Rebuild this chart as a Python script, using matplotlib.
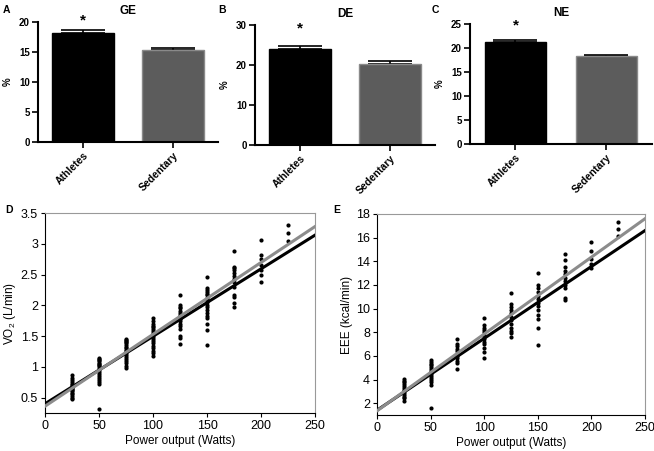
import numpy as np
import matplotlib
matplotlib.use("Agg")
import matplotlib.pyplot as plt

plt.rcParams['font.family'] = ['Liberation Sans', 'DejaVu Sans']
plt.rcParams['mathtext.fontset'] = 'custom'
plt.rcParams['mathtext.rm'] = 'Liberation Sans'
plt.rcParams['mathtext.it'] = 'Liberation Sans:italic'

# bar panels
groups = ["Athletes", "Sedentary"]
ge_mean = [18.1, 15.3]
ge_err = [0.5, 0.3]
de_mean = [23.9, 20.3]
de_err = [0.8, 0.7]
ne_mean = [21.2, 18.3]
ne_err = [0.5, 0.3]

# scatter data: power output levels and measured values
watts = [25, 50, 75, 100, 125, 150, 175, 200, 225]
vo2 = [
    [0.86, 0.82, 0.78, 0.75, 0.72, 0.70, 0.68, 0.66, 0.64, 0.62, 0.60, 0.58, 0.56, 0.53, 0.50, 0.47],
    [1.15, 1.13, 1.11, 1.09, 1.07, 1.05, 1.03, 1.01, 0.98, 0.95, 0.92, 0.88, 0.85, 0.82, 0.78, 0.75, 0.72, 0.32],
    [1.46, 1.44, 1.42, 1.40, 1.38, 1.35, 1.33, 1.30, 1.28, 1.25, 1.22, 1.19, 1.16, 1.13, 1.10, 1.06, 1.02, 0.98],
    [1.80, 1.75, 1.70, 1.67, 1.64, 1.61, 1.58, 1.55, 1.52, 1.48, 1.45, 1.42, 1.38, 1.34, 1.30, 1.26, 1.22, 1.18],
    [2.17, 2.01, 1.98, 1.95, 1.90, 1.87, 1.84, 1.80, 1.77, 1.74, 1.70, 1.66, 1.62, 1.50, 1.47, 1.37],
    [2.46, 2.28, 2.25, 2.22, 2.19, 2.16, 2.12, 2.08, 2.05, 2.01, 1.97, 1.92, 1.87, 1.83, 1.80, 1.70, 1.60, 1.35],
    [2.88, 2.63, 2.60, 2.57, 2.52, 2.47, 2.42, 2.38, 2.30, 2.17, 2.14, 2.04, 1.98],
    [3.06, 2.81, 2.75, 2.65, 2.58, 2.50, 2.38],
    [3.31, 3.18, 3.04],
]
eee = [
    [4.05, 3.9, 3.75, 3.6, 3.45, 3.3, 3.15, 3.0, 2.85, 2.7, 2.55, 2.4, 2.2],
    [5.65, 5.5, 5.35, 5.2, 5.05, 4.9, 4.75, 4.6, 4.45, 4.3, 4.15, 4.0, 3.8, 3.5, 1.55],
    [7.4, 7.0, 6.8, 6.6, 6.4, 6.2, 6.0, 5.8, 5.6, 5.4, 4.9],
    [9.2, 8.6, 8.4, 8.2, 8.0, 7.8, 7.6, 7.4, 7.2, 7.0, 6.7, 6.3, 5.8],
    [11.35, 10.4, 10.1, 9.9, 9.6, 9.3, 9.0, 8.7, 8.4, 8.1, 7.9, 7.6],
    [13.05, 12.0, 11.7, 11.4, 11.1, 10.8, 10.5, 10.2, 9.9, 9.5, 9.1, 8.4, 6.9],
    [14.65, 14.1, 13.5, 13.2, 12.9, 12.6, 12.3, 12.0, 11.7, 10.9, 10.7],
    [15.6, 14.9, 14.2, 13.8, 13.4],
    [17.3, 16.7, 16.1],
]
# regression lines (intercept, value at 250 W)
vo2_black = [0.40, 3.14]
vo2_gray = [0.36, 3.28]
eee_black = [1.40, 16.6]
eee_gray = [1.35, 17.6]
line_x = [0, 250]

W, H = 654, 451
fig = plt.figure(figsize=(W / 100, H / 100), dpi=100)

def box(l, t, r, b):
    return [l / W, 1 - b / H, (r - l) / W, (b - t) / H]

def bar_panel(rect, means, errs, title, letter, lx, ymax, step, star_y):
    ax = fig.add_axes(rect)
    x = np.arange(len(groups))
    ax.bar(x, means, width=0.68, color=["black", "#5c5c5c"],
           edgecolor=["black", "#8a8a8a"], linewidth=1, zorder=2)
    ax.errorbar(x, means, yerr=[[0, 0], errs], fmt="none", ecolor="black",
                elinewidth=1.2, capsize=16, capthick=1.2, zorder=1)
    ax.set_xlim(-0.5, 1.5)
    ax.set_ylim(0, ymax)
    ax.set_yticks(np.arange(0, ymax + 0.1, step))
    ax.set_xticks(x)
    ax.set_xticklabels(groups, rotation=45, ha="right", rotation_mode="anchor",
                       fontsize=7.5, fontweight="bold")
    for lab in ax.get_yticklabels():
        lab.set_fontweight("bold")
        lab.set_fontsize(7)
    ax.spines["top"].set_visible(False)
    ax.spines["right"].set_visible(False)
    ax.spines["left"].set_linewidth(1.5)
    ax.spines["bottom"].set_linewidth(1.5)
    ax.tick_params(width=1.2, length=4, pad=2)
    ax.set_ylabel("%", fontsize=7, fontweight="bold")
    ax.set_title(title, fontsize=8.5, fontweight="bold", pad=6)
    ax.text(0, star_y, "*", ha="center", va="center", fontsize=11, fontweight="bold")
    fig.text(lx / W, 1 - 10 / H, letter, fontsize=7.5, fontweight="bold", va="center")
    return ax

bar_panel(box(38, 22, 218, 142), ge_mean, ge_err, "GE", "A", 3, 20, 5, 20.2)
bar_panel(box(255, 25, 435, 145), de_mean, de_err, "DE", "B", 218, 30, 10, 29.2)
bar_panel(box(470, 24, 652, 144), ne_mean, ne_err, "NE", "C", 432, 25, 5, 24.6)

def scatter_panel(rect, vals, black, gray, ylim, yticks, ylabel, letter, lx, ly):
    ax = fig.add_axes(rect)
    for w, v in zip(watts, vals):
        ax.scatter([w] * len(v), v, s=9, color="black", zorder=3, linewidths=0)
    ax.plot(line_x, black, color="black", lw=2.2, zorder=4)
    ax.plot(line_x, gray, color="#8c8c8c", lw=2.2, zorder=5)
    ax.set_xlim(0, 250)
    ax.set_ylim(*ylim)
    ax.set_xticks(np.arange(0, 251, 50))
    ax.set_yticks(yticks)
    ax.set_yticklabels([("%g" % t) for t in yticks])
    ax.tick_params(labelsize=9, length=3, width=0.8, pad=2)
    for s in ["top", "right"]:
        ax.spines[s].set_color("#999999")
    ax.set_xlabel("Power output (Watts)", fontsize=8.5, labelpad=2)
    ax.set_ylabel(ylabel, fontsize=8.5, labelpad=2)
    fig.text(lx / W, 1 - ly / H, letter, fontsize=7.5, fontweight="bold", va="center")
    return ax

scatter_panel(box(45, 213, 315, 413), vo2, vo2_black, vo2_gray, (0.25, 3.5),
              [0.5, 1, 1.5, 2, 2.5, 3, 3.5], "VO$_2$ (L/min)", "D", 5, 210)
scatter_panel(box(377, 214, 645, 415), eee, eee_black, eee_gray, (1, 18),
              list(range(2, 19, 2)), "EEE (kcal/min)", "E", 333, 210)

fig.savefig("out.png", dpi=100)
